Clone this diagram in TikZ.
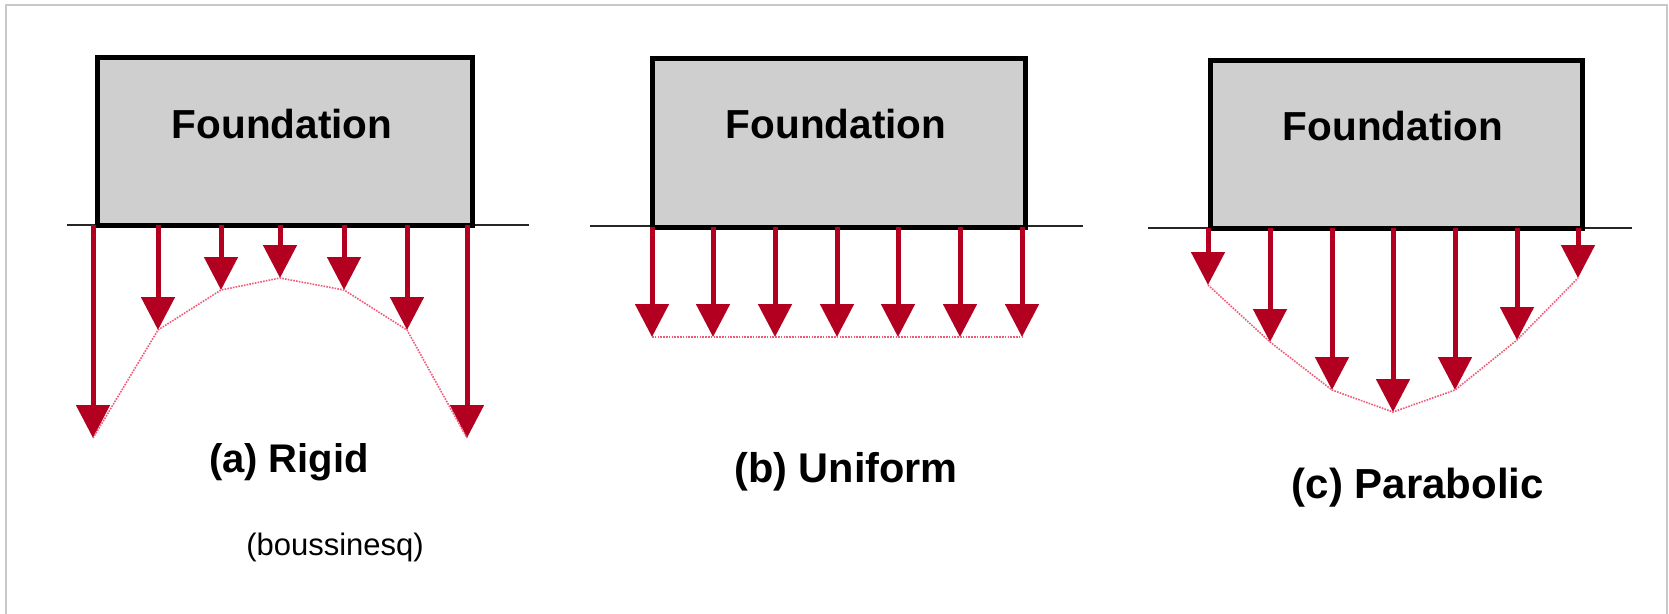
\documentclass[tikz,border=0pt]{standalone}
\usepackage{fontspec}
\setmainfont{Liberation Sans}
\usetikzlibrary{arrows.meta}
\definecolor{forcered}{RGB}{180,0,32}
\definecolor{dotpink}{RGB}{240,90,120}
\definecolor{boxgray}{RGB}{207,207,207}
\definecolor{framegray}{RGB}{200,200,200}
\tikzset{
  foundbox/.style={draw=black, line width=5pt, fill=boxgray, inner sep=0pt},
  foundtext/.style={anchor=base, inner sep=0pt, font=\fontsize{40.5}{44}\selectfont\bfseries},
  caption/.style={anchor=base, inner sep=0pt, font=\fontsize{40}{44}\selectfont\bfseries},
  subcaption/.style={anchor=base, inner sep=0pt, font=\fontsize{31}{36}\selectfont},
  ground/.style={draw=black!85, line width=1.6pt},
  force/.style={draw=forcered, line width=5pt, -{Triangle[width=33pt,length=33pt]}, shorten >=0pt},
  pressure/.style={draw=dotpink, line width=1.6pt, dash pattern=on 1.6pt off 1.2pt},
}
\begin{document}
\begin{tikzpicture}[x=1pt,y=-1pt]
\useasboundingbox (0,0) rectangle (1669,613);
\draw[framegray, line width=1.5pt] (6,625) -- (6,5) -- (1667,5) -- (1667,625);

% ---------- (a) Rigid ----------
\coordinate (ga1) at (67,225); \coordinate (ga2) at (529,225);
\draw[ground] (ga1) -- (ga2);
\node[foundbox, minimum width=375pt, minimum height=168pt] (fa) at (284.5,141) {};
\node[foundtext] (ta) at (282,138) {Foundation};
\foreach \i/\x/\y in {1/93/438, 2/158/330, 3/221/290, 4/280/278, 5/344/290, 6/407/330, 7/467/438} {
  \coordinate (as\i) at (\x,225);
  \coordinate (ae\i) at (\x,\y);
}
\foreach \i in {1,...,7} { \draw[force] (as\i) -- (ae\i); }
\draw[pressure] (ae1) -- (ae2) -- (ae3) -- (ae4) -- (ae5) -- (ae6) -- (ae7);
\node[caption] (ca) at (289,472) {(a) Rigid};
\node[subcaption] (cb2) at (335,555) {(boussinesq)};

% ---------- (b) Uniform ----------
\coordinate (gb1) at (590,226); \coordinate (gb2) at (1083,226);
\draw[ground] (gb1) -- (gb2);
\node[foundbox, minimum width=373pt, minimum height=169pt] (fb) at (838.5,142.5) {};
\node[foundtext] (tb) at (836,138) {Foundation};
\foreach \i/\x in {1/652, 2/713, 3/775, 4/837, 5/898, 6/960, 7/1022} {
  \coordinate (bs\i) at (\x,227);
  \coordinate (be\i) at (\x,337);
}
\foreach \i in {1,...,7} { \draw[force] (bs\i) -- (be\i); }
\draw[pressure] (be1) -- (be7);
\node[caption, font=\fontsize{41.5}{44}\selectfont\bfseries] (cbb) at (846,482) {(b) Uniform};

% ---------- (c) Parabolic ----------
\coordinate (gc1) at (1148,228); \coordinate (gc2) at (1632,228);
\draw[ground] (gc1) -- (gc2);
\node[foundbox, minimum width=372pt, minimum height=168pt] (fc) at (1396,144) {};
\node[foundtext] (tc) at (1393,140) {Foundation};
\foreach \i/\x/\y in {1/1208/285, 2/1270/342, 3/1332/390, 4/1393/412, 5/1455/390, 6/1517/340, 7/1578/278} {
  \coordinate (cs\i) at (\x,228);
  \coordinate (ce\i) at (\x,\y);
}
\foreach \i in {1,...,7} { \draw[force] (cs\i) -- (ce\i); }
\draw[pressure] (ce1) -- (ce2) -- (ce3) -- (ce4) -- (ce5) -- (ce6) -- (ce7);
\node[caption, font=\fontsize{42}{44}\selectfont\bfseries] (ccc) at (1418,498) {(c) Parabolic};
\end{tikzpicture}
\end{document}
